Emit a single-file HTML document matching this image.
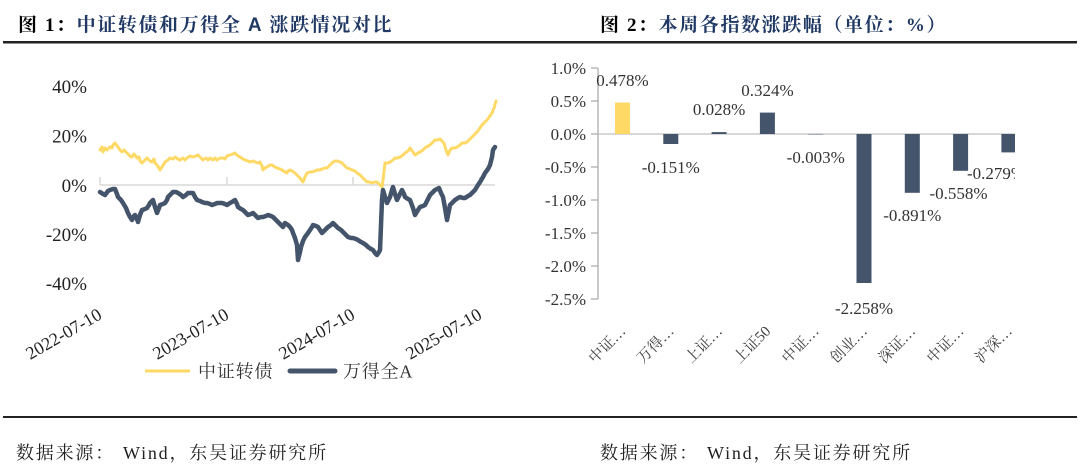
<!DOCTYPE html>
<html>
<head>
<meta charset="utf-8">
<style>
html,body{margin:0;padding:0;background:#fff;}
body{width:1080px;height:470px;overflow:hidden;}
svg{display:block;}
.ser{font-family:"Liberation Serif","Noto Serif CJK SC",serif;}
</style>
</head>
<body>
<svg width="1080" height="470" viewBox="0 0 1080 470" xmlns="http://www.w3.org/2000/svg">
  <defs>
    <clipPath id="rc"><rect x="540" y="50" width="475" height="330"/></clipPath>
  </defs>

  <!-- Titles -->
  <text x="18" y="31" class="ser" font-size="19" font-weight="bold" letter-spacing="1.6" fill="#000">图 1：<tspan fill="#1F3864">中证转债和万得全 </tspan><tspan fill="#1F3864" font-family="Liberation Sans, sans-serif">A</tspan><tspan fill="#1F3864"> 涨跌情况对比</tspan></text>
  <text x="600" y="31" class="ser" font-size="19" font-weight="bold" letter-spacing="1.6" fill="#000">图 2：<tspan fill="#1F3864">本周各指数涨跌幅（单位：%）</tspan></text>

  <!-- Rules -->
  <rect x="3" y="41" width="1074" height="2.5" fill="#222"/>
  <rect x="3" y="416" width="1074" height="2" fill="#222"/>

  <!-- Footers -->
  <text x="16" y="459" class="ser" font-size="18" letter-spacing="1.8" fill="#222">数据来源：<tspan dx="8">Wind，东吴证券研究所</tspan></text>
  <text x="600" y="459" class="ser" font-size="18" letter-spacing="1.8" fill="#222">数据来源：<tspan dx="8">Wind，东吴证券研究所</tspan></text>

  <!-- ============ LEFT CHART ============ -->
  <g class="ser" font-size="19" fill="#222" text-anchor="end">
    <text x="87" y="93">40%</text>
    <text x="87" y="142.5">20%</text>
    <text x="87" y="192">0%</text>
    <text x="87" y="241">-20%</text>
    <text x="87" y="290">-40%</text>
  </g>
  <!-- axis -->
  <line x1="100" y1="185" x2="495" y2="185" stroke="#d9d9d9" stroke-width="1.5"/>
  <g stroke="#d9d9d9" stroke-width="1.5">
    <line x1="100" y1="177" x2="100" y2="185"/>
    <line x1="227" y1="177" x2="227" y2="185"/>
    <line x1="353" y1="177" x2="353" y2="185"/>
    <line x1="480" y1="177" x2="480" y2="185"/>
  </g>

  <!-- yellow 中证转债 -->
  <polyline fill="none" stroke="#FFD966" stroke-width="3" stroke-linejoin="round" stroke-linecap="round"
    points="100,150 102,147 103,152 105,148 107,150 108,149 110,147 112,148 113,145 115,143 117,146 118,147 120,150 122,152 124,150 125,151 127,153 130,156 132,157 134,154 135,155 137,158 139,157 140,161 142,163 144,161 145,160 147,158 149,160 150,161 152,162 154,159 155,163 157,165 159,168 160,170 162,167 165,162 168,160 170,158 173,159 175,157 178,159 180,160 183,158 185,160 187,158 190,156 193,157 196,156 198,155 201,158 203,160 206,158 208,160 210,158 213,160 215,158 217,160 220,158 223,158 225,159 227,156 230,155 233,154 235,153 238,156 240,157 243,159 245,160 248,161 250,162 253,161 255,162 258,163 260,162 262,166 263,170 265,168 267,167 270,165 272,165 275,167 277,168 280,169 282,170 285,172 287,173 288,171 290,170 292,171 295,173 298,176 300,178 302,181 303,182 305,177 307,173 310,172 312,172 315,171 317,170 320,170 322,169 325,168 327,168 330,165 332,163 335,161 337,161 340,162 342,163 345,166 347,168 350,169 352,170 355,171 357,173 360,175 362,177 365,180 367,182 370,182 372,183 375,182 377,182 380,185 382,187 383,180 385,163 388,163 390,162 393,160 395,158 398,158 400,157 403,155 405,153 408,151 410,148 413,152 415,155 418,153 420,152 423,150 425,148 428,146 430,145 433,142 435,140 438,140 440,139 442,141 444,143 446,150 448,155 450,150 452,148 455,148 457,147 460,145 462,143 465,143 467,142 470,139 472,137 475,134 477,132 480,128 482,125 485,122 487,120 490,116 492,113 494,108 496,101"/>

  <!-- dark 万得全A -->
  <polyline fill="none" stroke="#44546A" stroke-width="4.5" stroke-linejoin="round" stroke-linecap="round"
    points="100,192 103,194 105,195 108,191 110,190 113,189 115,189 117,194 118,197 121,200 123,203 126,208 128,213 130,217 132,220 134,216 135,215 137,219 138,222 140,215 142,210 145,209 147,208 149,205 150,203 152,201 153,200 155,207 157,213 159,208 160,205 163,204 165,203 167,200 168,197 171,194 173,192 176,192 178,193 181,195 183,197 186,195 188,193 191,193 193,193 195,197 197,200 200,201 202,202 205,203 207,203 210,204 212,205 215,204 217,203 220,203 222,203 225,204 227,205 230,203 232,202 235,200 237,204 238,207 241,209 243,210 246,213 248,215 251,214 253,213 256,216 258,218 261,217 263,217 266,216 268,215 271,216 273,217 276,220 278,222 281,225 283,227 285,223 288,225 290,227 292,230 293,233 295,238 297,245 298,260 300,252 301,247 303,241 305,237 308,233 310,230 312,227 313,225 316,226 318,227 320,230 322,233 324,231 325,230 327,228 328,227 331,225 333,223 336,226 338,228 341,230 343,232 346,235 348,237 351,238 353,238 356,239 358,240 361,242 363,243 366,245 368,247 371,249 373,250 375,253 377,255 379,252 380,250 381,225 382,200 383,190 385,197 387,203 389,199 390,197 392,190 393,187 395,194 397,200 400,194 402,190 404,194 405,197 408,199 410,200 413,208 415,215 418,210 420,207 423,206 425,205 428,199 430,195 433,192 435,190 437,189 439,188 441,193 443,197 445,208 447,220 449,210 450,205 453,202 455,200 458,198 460,197 463,198 465,198 468,196 470,195 473,192 475,190 478,185 480,182 483,177 485,173 488,169 490,165 492,157 493,150 495,147"/>

  <!-- date labels -->
  <g class="ser" font-size="18" fill="#222" text-anchor="end">
    <text transform="translate(103,318) rotate(-30)">2022-07-10</text>
    <text transform="translate(230,318) rotate(-30)">2023-07-10</text>
    <text transform="translate(356,318) rotate(-30)">2024-07-10</text>
    <text transform="translate(483,318) rotate(-30)">2025-07-10</text>
  </g>

  <!-- legend -->
  <line x1="145" y1="371" x2="190" y2="371" stroke="#FFD966" stroke-width="3"/>
  <text x="198" y="377.5" class="ser" font-size="18" letter-spacing="0.8" fill="#333">中证转债</text>
  <line x1="290" y1="371" x2="335" y2="371" stroke="#44546A" stroke-width="5" stroke-linecap="round"/>
  <text x="343" y="377.5" class="ser" font-size="18" letter-spacing="0.8" fill="#333">万得全A</text>

  <!-- ============ RIGHT CHART ============ -->
  <g class="ser" font-size="17" fill="#333" text-anchor="end">
    <text x="586" y="74">1.0%</text>
    <text x="586" y="107">0.5%</text>
    <text x="586" y="140">0.0%</text>
    <text x="586" y="173">-0.5%</text>
    <text x="586" y="206">-1.0%</text>
    <text x="586" y="239">-1.5%</text>
    <text x="586" y="272">-2.0%</text>
    <text x="586" y="305">-2.5%</text>
  </g>
  <g stroke="#a6a6a6" stroke-width="1.2">
    <line x1="598" y1="68" x2="598" y2="299"/>
    <line x1="591" y1="68" x2="598" y2="68"/>
    <line x1="591" y1="101" x2="598" y2="101"/>
    <line x1="591" y1="134" x2="598" y2="134"/>
    <line x1="591" y1="167" x2="598" y2="167"/>
    <line x1="591" y1="200" x2="598" y2="200"/>
    <line x1="591" y1="233" x2="598" y2="233"/>
    <line x1="591" y1="266" x2="598" y2="266"/>
    <line x1="591" y1="299" x2="598" y2="299"/>
  </g>

  <g clip-path="url(#rc)">
    <line x1="598" y1="134" x2="1030" y2="134" stroke="#bfbfbf" stroke-width="1.2"/>
    <rect x="615" y="102.5" width="15" height="31.5" fill="#FFD966"/>
    <rect x="663.3" y="134" width="15" height="10" fill="#44546A"/>
    <rect x="711.6" y="132.1" width="15" height="1.9" fill="#44546A"/>
    <rect x="759.9" y="112.6" width="15" height="21.4" fill="#44546A"/>
    <rect x="808.2" y="134" width="15" height="0.4" fill="#44546A"/>
    <rect x="856.5" y="134" width="15" height="149" fill="#44546A"/>
    <rect x="904.8" y="134" width="15" height="58.8" fill="#44546A"/>
    <rect x="953.1" y="134" width="15" height="36.8" fill="#44546A"/>
    <rect x="1001.4" y="134" width="15" height="18.4" fill="#44546A"/>

    <g class="ser" font-size="17" fill="#333" text-anchor="middle">
      <text x="622.5" y="86">0.478%</text>
      <text x="670.8" y="173">-0.151%</text>
      <text x="719.1" y="115">0.028%</text>
      <text x="767.4" y="96">0.324%</text>
      <text x="815.7" y="163">-0.003%</text>
      <text x="864" y="314">-2.258%</text>
      <text x="912.3" y="221">-0.891%</text>
      <text x="958.5" y="199">-0.558%</text>
      <text x="967" y="179" text-anchor="start">-0.279%</text>
    </g>

    <g class="ser" font-size="15" fill="#404040" text-anchor="end">
      <text transform="translate(626.5,332) rotate(-45)">中证…</text>
      <text transform="translate(674.8,332) rotate(-45)">万得…</text>
      <text transform="translate(723.1,332) rotate(-45)">上证…</text>
      <text transform="translate(771.4,332) rotate(-45)">上证50</text>
      <text transform="translate(819.7,332) rotate(-45)">中证…</text>
      <text transform="translate(868,332) rotate(-45)">创业…</text>
      <text transform="translate(916.3,332) rotate(-45)">深证…</text>
      <text transform="translate(964.6,332) rotate(-45)">中证…</text>
      <text transform="translate(1012.9,332) rotate(-45)">沪深…</text>
    </g>
  </g>
</svg>
</body>
</html>
